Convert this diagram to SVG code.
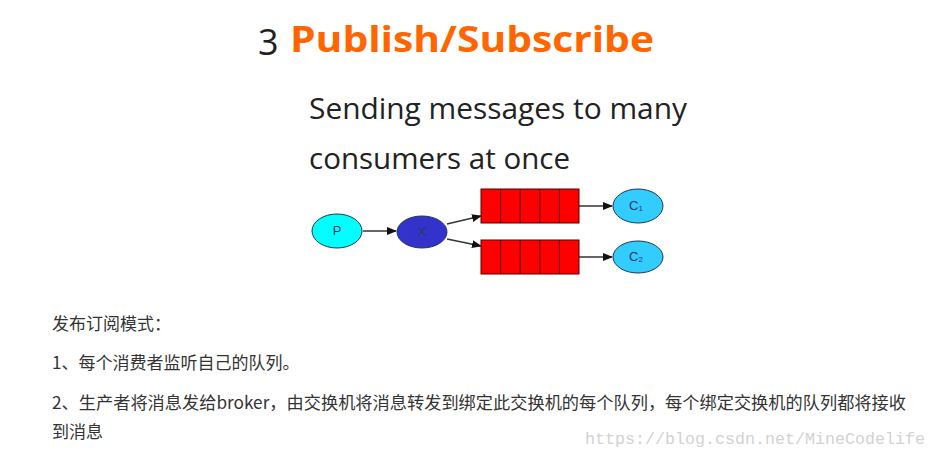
<svg xmlns="http://www.w3.org/2000/svg" width="937" height="459" viewBox="0 0 937 459">
<defs>
<style>
.node{stroke:#1a3a5a;stroke-width:1}
.q{fill:#ff0000;stroke:#550000;stroke-width:1}
.lbl{font-family:"Liberation Sans",Arial,sans-serif;font-size:13px;fill:#2a3a5a;text-anchor:middle}
.edge{stroke:#333;stroke-width:1.3;fill:none}
.zh{font-family:"Noto Sans CJK SC","Noto Sans",sans-serif;font-size:17px;fill:#333}
.en{font-family:"Open Sans","Noto Sans",sans-serif;fill:#222}
</style>
<marker id="ah" markerWidth="10" markerHeight="8" refX="9" refY="4" orient="auto" markerUnits="userSpaceOnUse">
<path d="M0,0 L10,4 L0,8 z" fill="#111"/>
</marker>
</defs>
<rect width="937" height="459" fill="#ffffff"/>
<g id="title">
<text x="258" y="55" class="en" font-size="36" fill="#222">3</text>
<text x="290" y="52" font-family="'Open Sans','Noto Sans',sans-serif" font-weight="bold" font-size="36" fill="#ff6600" textLength="364" lengthAdjust="spacingAndGlyphs">Publish/Subscribe</text>
</g>
<g id="subtitle">
<text x="309" y="119" class="en" font-size="29" textLength="378" lengthAdjust="spacingAndGlyphs">Sending messages to many</text>
<text x="309" y="169" class="en" font-size="29" textLength="261" lengthAdjust="spacingAndGlyphs">consumers at once</text>
</g>
<g id="connectors">
<line class="edge" x1="363" y1="231" x2="396" y2="231" marker-end="url(#ah)"/>
<line class="edge" x1="447" y1="224" x2="481" y2="216" marker-end="url(#ah)"/>
<line class="edge" x1="447" y1="239" x2="481" y2="246" marker-end="url(#ah)"/>
<line class="edge" x1="579" y1="206" x2="612" y2="206" marker-end="url(#ah)"/>
<line class="edge" x1="579" y1="257" x2="612" y2="257" marker-end="url(#ah)"/>
</g>
<g id="P">
<ellipse class="node" cx="337" cy="231" rx="25" ry="17" fill="#00ffff"/>
<text class="lbl" x="337" y="235">P</text>
</g>
<g id="X">
<ellipse class="node" cx="422" cy="232" rx="25" ry="16" fill="#3333cc"/>
<text class="lbl" x="422" y="236">X</text>
</g>
<g id="Q1">
<rect class="q" x="481" y="189" width="98" height="34"/>
<line class="q" x1="500.6" y1="189" x2="500.6" y2="223"/>
<line class="q" x1="520.2" y1="189" x2="520.2" y2="223"/>
<line class="q" x1="539.8" y1="189" x2="539.8" y2="223"/>
<line class="q" x1="559.4" y1="189" x2="559.4" y2="223"/>
</g>
<g id="Q2">
<rect class="q" x="481" y="240" width="98" height="34"/>
<line class="q" x1="500.6" y1="240" x2="500.6" y2="274"/>
<line class="q" x1="520.2" y1="240" x2="520.2" y2="274"/>
<line class="q" x1="539.8" y1="240" x2="539.8" y2="274"/>
<line class="q" x1="559.4" y1="240" x2="559.4" y2="274"/>
</g>
<g id="C1">
<ellipse class="node" cx="638" cy="206" rx="25" ry="17" fill="#33ccff"/>
<text class="lbl" x="636" y="210">C<tspan font-size="8" dy="1">1</tspan></text>
</g>
<g id="C2">
<ellipse class="node" cx="638" cy="257" rx="25" ry="16" fill="#33ccff"/>
<text class="lbl" x="636" y="261">C<tspan font-size="8" dy="1">2</tspan></text>
</g>
<g id="text">
<text class="zh" x="52" y="330">发布订阅模式：</text>
<text class="zh" x="52" y="369">1、每个消费者监听自己的队列。</text>
<text class="zh" x="52" y="409" textLength="854" lengthAdjust="spacingAndGlyphs">2、生产者将消息发给broker，由交换机将消息转发到绑定此交换机的每个队列，每个绑定交换机的队列都将接收</text>
<text class="zh" x="52" y="438">到消息</text>
<text x="585" y="444" font-family="'Liberation Mono','DejaVu Sans Mono',monospace" font-size="16.5" fill="#d2d2d2" textLength="340" lengthAdjust="spacingAndGlyphs">https://blog.csdn.net/MineCodelife</text>
</g>
</svg>
